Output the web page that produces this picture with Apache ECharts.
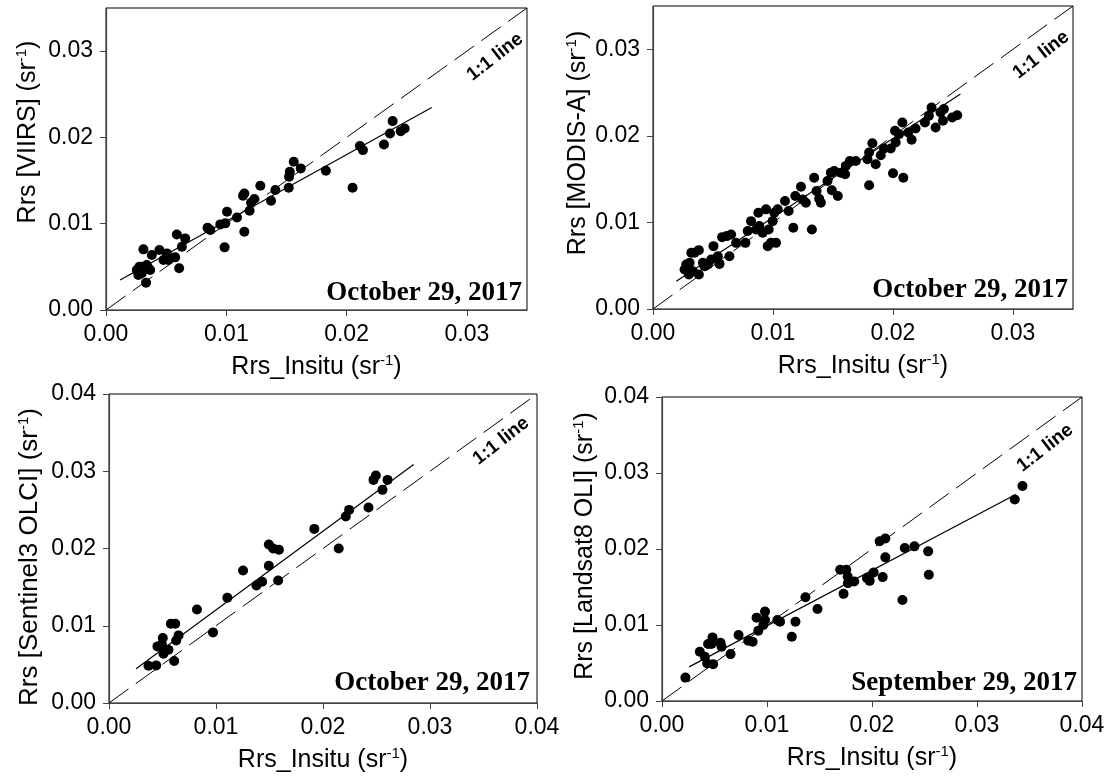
<!DOCTYPE html>
<html><head><meta charset="utf-8">
<script src="https://cdn.jsdelivr.net/npm/echarts@6.0.0/dist/echarts.min.js"></script>
<style>html,body{margin:0;padding:0;background:#fff}#c{width:1113px;height:780px}</style>
</head><body><div id="c"></div><script>
// ---------------- DATA ----------------
const sensorNames = ['VIIRS', 'MODIS-A', 'Sentinel3 OLCI', 'Landsat8 OLI'];
const dateLabels = ['October 29, 2017', 'October 29, 2017', 'October 29, 2017', 'September 29, 2017'];
const axisMax = [0.035, 0.035, 0.04, 0.04];
const tickInterval = 0.01;
const xTitle = 'Rrs_Insitu';
const oneToOneLabel = '1:1 line';

const viirsX = [0.00311,0.00278,0.00256,0.00269,0.00297,0.00339,0.00367,0.00333,0.00381,0.00444,0.00478,0.00506,0.00519,0.00575,0.00608,0.00589,0.00658,0.00631,0.00844,0.00867,0.00950,0.00992,0.00986,0.01006,0.01089,0.01150,0.01194,0.01206,0.01233,0.01139,0.01150,0.01283,0.01372,0.01408,0.01519,0.01522,0.01528,0.01561,0.01619,0.01828,0.02050,0.02111,0.02136,0.02311,0.02361,0.02383,0.02450,0.02483,0.00297,0.00353];
const viirsY = [0.00703,0.00502,0.00463,0.00405,0.00502,0.00521,0.00463,0.00317,0.00637,0.00695,0.00579,0.00656,0.00579,0.00610,0.00483,0.00876,0.00830,0.00734,0.00954,0.00927,0.00992,0.01004,0.00726,0.01139,0.01073,0.00907,0.01151,0.01243,0.01286,0.01324,0.01351,0.01440,0.01266,0.01390,0.01417,0.01544,0.01602,0.01718,0.01641,0.01614,0.01417,0.01900,0.01853,0.01919,0.02046,0.02189,0.02073,0.02104,0.00425,0.00483];

const modisX = [0.00263,0.00277,0.00305,0.00299,0.00332,0.00382,0.00319,0.00346,0.00382,0.00416,0.00429,0.00457,0.00485,0.00504,0.00540,0.00554,0.00576,0.00615,0.00651,0.00637,0.00693,0.00770,0.00789,0.00817,0.00859,0.00878,0.00886,0.00914,0.00942,0.00964,0.00956,0.00983,0.00997,0.01011,0.01025,0.01039,0.01100,0.01130,0.01169,0.01186,0.01233,0.01247,0.01274,0.01324,0.01343,0.01363,0.01385,0.01399,0.01454,0.01482,0.01490,0.01510,0.01540,0.01565,0.01601,0.01607,0.01640,0.01690,0.01787,0.01801,0.01801,0.01828,0.01856,0.01898,0.01925,0.01981,0.02000,0.02017,0.02022,0.02050,0.02078,0.02086,0.02127,0.02155,0.02188,0.02266,0.02321,0.02299,0.02355,0.02396,0.02424,0.02416,0.02493,0.02535];
const modisY = [0.00456,0.00514,0.00533,0.00398,0.00436,0.00398,0.00649,0.00649,0.00680,0.00533,0.00494,0.00514,0.00571,0.00726,0.00610,0.00521,0.00830,0.00842,0.00861,0.00610,0.00764,0.00764,0.00900,0.01015,0.00919,0.01112,0.00958,0.00880,0.01151,0.00919,0.00726,0.00764,0.01015,0.01112,0.00764,0.01151,0.01247,0.01131,0.00938,0.01305,0.01413,0.01266,0.01228,0.00919,0.01517,0.01363,0.01274,0.01228,0.01479,0.01575,0.01371,0.01595,0.01305,0.01575,0.01556,0.01653,0.01710,0.01710,0.01730,0.01807,0.01429,0.01915,0.01672,0.01776,0.01853,0.01853,0.01568,0.02058,0.01923,0.02019,0.02154,0.01517,0.02039,0.01954,0.02085,0.02154,0.02328,0.02232,0.02097,0.02270,0.02309,0.02174,0.02212,0.02239];

const olciX = [0.00369,0.00441,0.00453,0.00494,0.00503,0.00509,0.00556,0.00578,0.00609,0.00619,0.00628,0.00650,0.00822,0.00972,0.01106,0.01253,0.01378,0.01431,0.01494,0.01494,0.01534,0.01588,0.01581,0.01919,0.02147,0.02213,0.02244,0.02425,0.02472,0.02494,0.02556,0.02603];
const olciY = [0.00483,0.00487,0.00733,0.00759,0.00841,0.00638,0.00690,0.01026,0.00543,0.01026,0.00810,0.00875,0.01211,0.00914,0.01362,0.01716,0.01522,0.01569,0.01776,0.02052,0.02000,0.01983,0.01586,0.02254,0.02000,0.02414,0.02500,0.02530,0.02888,0.02944,0.02759,0.02888];

const landsatX = [0.00223,0.00360,0.00408,0.00430,0.00439,0.00471,0.00481,0.00487,0.00557,0.00567,0.00653,0.00729,0.00822,0.00863,0.00917,0.00901,0.00965,0.00981,0.00981,0.01099,0.01124,0.01236,0.01271,0.01366,0.01481,0.01697,0.01729,0.01755,0.01768,0.01771,0.01831,0.01952,0.01978,0.02016,0.02073,0.02102,0.02127,0.02127,0.02290,0.02312,0.02404,0.02535,0.02541,0.03360,0.03433];
const landsatY = [0.00308,0.00648,0.00581,0.00493,0.00749,0.00749,0.00837,0.00485,0.00767,0.00714,0.00617,0.00868,0.00793,0.00780,0.00925,0.01097,0.01000,0.01176,0.01066,0.01066,0.01044,0.00846,0.01044,0.01366,0.01211,0.01727,0.01410,0.01727,0.01639,0.01551,0.01573,0.01617,0.01581,0.01692,0.02101,0.01630,0.02137,0.01890,0.01330,0.02013,0.02035,0.01969,0.01661,0.02652,0.02828];

// regression line end points
const fitStartX = [0.00117, 0.00194, 0.00253, 0.00258];
const fitStartY = [0.00347, 0.00320, 0.00444, 0.00449];
const fitEndX = [0.02708, 0.02562, 0.02847, 0.03369];
const fitEndY = [0.02347, 0.02483, 0.03086, 0.02718];

// ---------------- LAYOUT ----------------
const FONT = '"Liberation Sans", Arial, sans-serif';
const SERIF = '"Liberation Serif", "Times New Roman", serif';
const grids = [
  {left: 106, top: 8, width: 421, height: 302},
  {left: 653, top: 6, width: 420, height: 303},
  {left: 109, top: 394, width: 428, height: 309},
  {left: 662, top: 397, width: 420, height: 304}
];
const yTitlePos = [[28, 132], [578, 143], [30, 557], [585, 546]];
const yTitleSize = [25, 25, 26, 25];
const datePos = [[522, 302], [1068, 299], [530, 692], [1077, 692]];
const labelPos = [[495, 57], [1041, 55], [501, 441], [1045, 448]];
const pointsX = [viirsX, modisX, olciX, landsatX];
const pointsY = [viirsY, modisY, olciY, landsatY];

const axisColor = '#444';
const makeSup = () => ({sup: {fontSize: 15, lineHeight: 8, fontFamily: FONT, color: '#000', fill: '#000', verticalAlign: 'top'}});

const xAxes = [], yAxes = [], series = [], graphics = [];
for (let i = 0; i < 4; i++) {
  const common = {
    type: 'value', gridIndex: i, min: 0, max: axisMax[i], interval: tickInterval,
    splitLine: {show: false},
    axisLine: {show: true, onZero: false, lineStyle: {color: axisColor, width: 1.2}},
    axisTick: {show: true, inside: false, length: 6, lineStyle: {color: axisColor, width: 1}},
    axisLabel: {
      fontSize: 23, fontFamily: FONT, color: '#000', margin: 13,
      showMaxLabel: axisMax[i] === 0.04,
      formatter: v => v.toFixed(2)
    }
  };
  xAxes.push(Object.assign({}, common, {
    name: xTitle + ' (sr{sup|-1})', nameLocation: 'middle', nameGap: 43,
    nameTextStyle: {fontSize: 25, lineHeight: 28, fontFamily: FONT, color: '#000', rich: makeSup()}
  }));
  yAxes.push(Object.assign({}, common));

  const data = pointsX[i].map((x, k) => [x, pointsY[i][k]]);
  series.push({
    type: 'line', xAxisIndex: i, yAxisIndex: i, symbol: 'none', silent: true, z: 2,
    data: [[0, 0], [axisMax[i], axisMax[i]]],
    lineStyle: {color: '#000', width: 1, type: [24, 9]}
  });
  series.push({
    type: 'line', xAxisIndex: i, yAxisIndex: i, symbol: 'none', silent: true, z: 3,
    data: [[fitStartX[i], fitStartY[i]], [fitEndX[i], fitEndY[i]]],
    lineStyle: {color: '#000', width: 1.2}
  });
  series.push({
    type: 'scatter', xAxisIndex: i, yAxisIndex: i, symbol: 'circle', symbolSize: 10, z: 4,
    itemStyle: {color: '#000', opacity: 1}, data: data
  });

  graphics.push({
    type: 'text', x: yTitlePos[i][0], y: yTitlePos[i][1], rotation: Math.PI / 2,
    style: {
      text: 'Rrs [' + sensorNames[i] + '] (sr{sup|-1})',
      fontSize: yTitleSize[i], lineHeight: 28, fontFamily: FONT, fill: '#000',
      align: 'center', verticalAlign: 'middle', textAlign: 'center', textVerticalAlign: 'middle',
      rich: makeSup()
    }
  });
  graphics.push({
    type: 'text', x: datePos[i][0], y: datePos[i][1] + 5,
    style: {
      text: dateLabels[i], fontSize: 27, fontWeight: 'bold', fontFamily: SERIF, fill: '#000',
      align: 'right', verticalAlign: 'bottom', textAlign: 'right', textVerticalAlign: 'bottom'
    }
  });
  graphics.push({
    type: 'text', x: labelPos[i][0], y: labelPos[i][1], rotation: 38 * Math.PI / 180,
    style: {
      text: oneToOneLabel, fontSize: 19, fontWeight: 'bold', fontFamily: FONT, fill: '#000',
      align: 'center', verticalAlign: 'middle', textAlign: 'center', textVerticalAlign: 'middle'
    }
  });
}

const chart = echarts.init(document.getElementById('c'), null, {renderer: 'canvas'});
chart.setOption({
  animation: false,
  backgroundColor: '#fff',
  grid: grids.map(g => Object.assign({show: true, borderColor: '#000', borderWidth: 1, containLabel: false}, g)),
  xAxis: xAxes,
  yAxis: yAxes,
  series: series,
  graphic: graphics
});
</script></body></html>
